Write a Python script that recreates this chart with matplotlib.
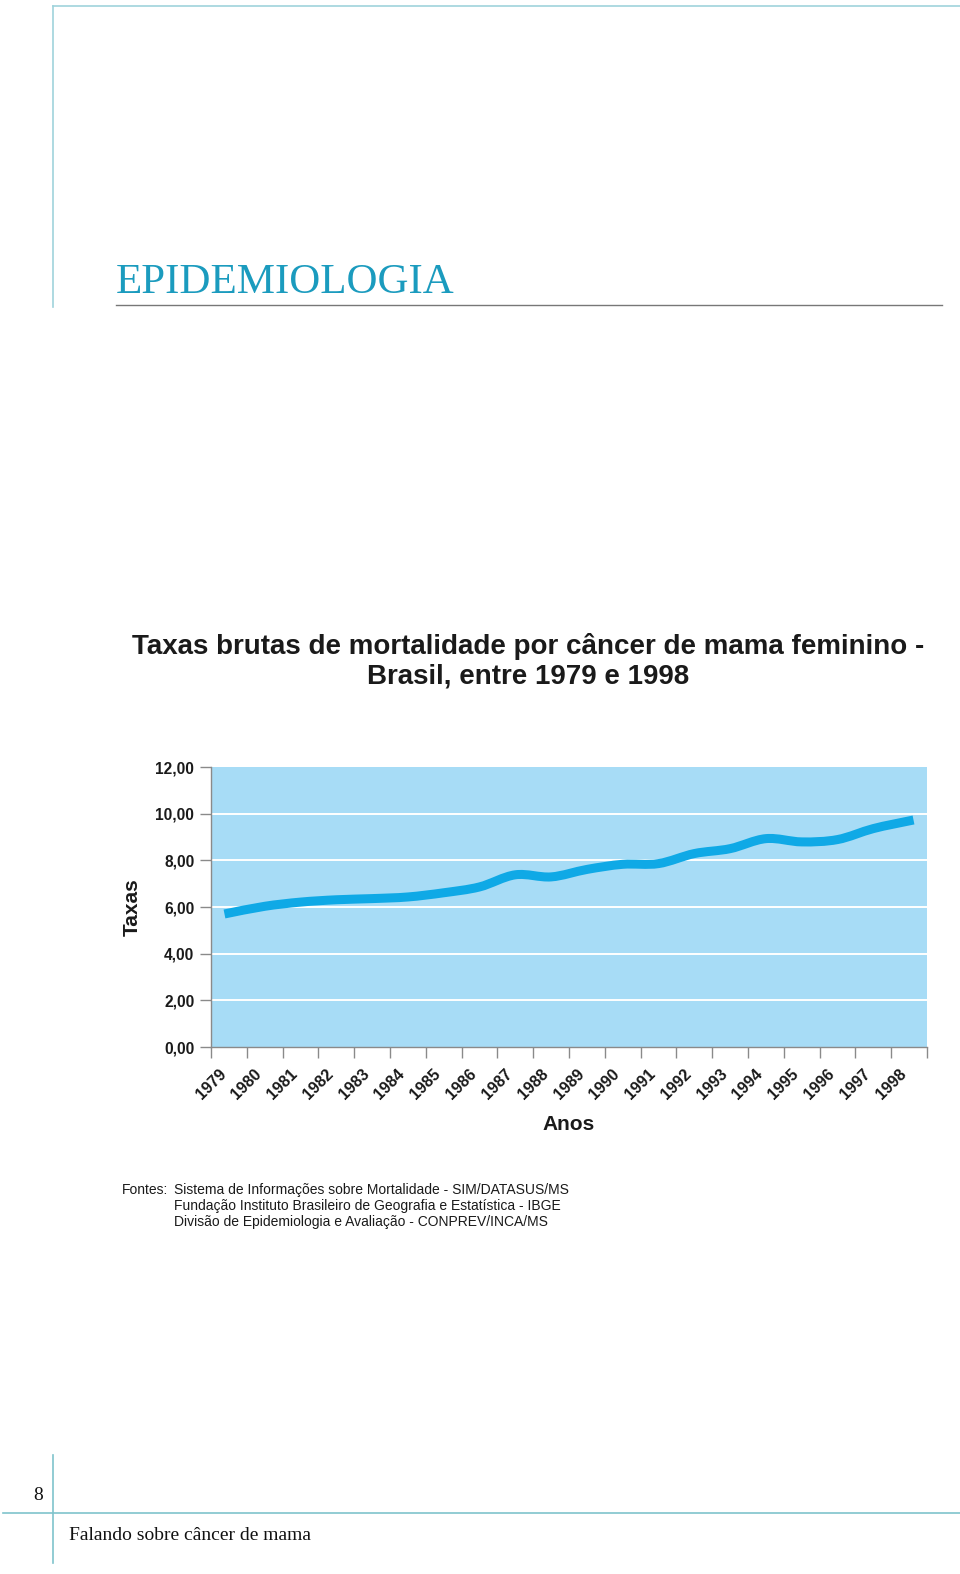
import matplotlib
matplotlib.use("Agg")
import matplotlib.pyplot as plt
from matplotlib.lines import Line2D
from matplotlib.path import Path
from matplotlib.patches import PathPatch

# data
anos = [str(a) for a in range(1979, 1999)]
taxas = [5.74, 6.03, 6.21, 6.31, 6.36, 6.43, 6.61, 6.86, 7.38, 7.29,
         7.61, 7.83, 7.86, 8.29, 8.50, 8.93, 8.79, 8.89, 9.36, 9.69]
y_ticks = [0, 2, 4, 6, 8, 10, 12]
y_tick_labels = ["0,00", "2,00", "4,00", "6,00", "8,00", "10,00", "12,00"]
fontes = ["Sistema de Informações sobre Mortalidade - SIM/DATASUS/MS",
          "Fundação Instituto Brasileiro de Geografia e Estatística - IBGE",
          "Divisão de Epidemiologia e Avaliação - CONPREV/INCA/MS"]

W, H = 960, 1574
fig = plt.figure(figsize=(W / 100, H / 100), dpi=100)
plt.rcParams['font.family'] = ['Liberation Sans', 'DejaVu Sans']


def fx(px):
    return px / W


def fy(py):
    return 1 - py / H


# page decoration
page_blue = "#9fd3dc"
fig.add_artist(Line2D([fx(53), fx(960)], [fy(6), fy(6)], color=page_blue, lw=1.2))
fig.add_artist(Line2D([fx(53), fx(53)], [fy(6), fy(307)], color=page_blue, lw=1.2))
fig.add_artist(Line2D([fx(116), fx(942)], [fy(305), fy(305)], color="#777777", lw=1.0))
fig.text(fx(116), fy(293), "EPIDEMIOLOGIA", family="Liberation Serif",
         fontsize=31, color="#1b9bbe", ha="left", va="baseline")

foot_blue = "#7fc3cc"
fig.add_artist(Line2D([fx(53), fx(53)], [fy(1455), fy(1563)], color=foot_blue, lw=1.2))
fig.add_artist(Line2D([fx(3), fx(960)], [fy(1513), fy(1513)], color=foot_blue, lw=1.2))
fig.text(fx(38), fy(1496), "8", family="Liberation Serif", fontsize=14,
         ha="center", va="center", color="#111111")
fig.text(fx(69), fy(1536), "Falando sobre câncer de mama", family="Liberation Serif",
         fontsize=14, ha="left", va="center", color="#111111")

# title
fig.text(fx(528), fy(661), "Taxas brutas de mortalidade por câncer de mama feminino -\nBrasil, entre 1979 e 1998",
         fontsize=20, fontweight="bold", ha="center", va="center", linespacing=1.2,
         color="#1a1a1a")

# chart
ax = fig.add_axes([fx(211), fy(1047), (927 - 211) / W, (1047 - 767) / H])
ax.set_facecolor("#a7dcf6")
ax.set_xlim(-0.5, len(anos) - 0.5)
ax.set_ylim(0, 12)

for v in y_ticks[1:-1]:
    ax.axhline(v, color="white", lw=1.4, zorder=1)

# smooth curve through the points (Catmull-Rom as cubic Bezier)
pts = list(zip(range(len(taxas)), taxas))
verts = [pts[0]]
codes = [Path.MOVETO]
for i in range(len(pts) - 1):
    p0 = pts[max(i - 1, 0)]
    p1 = pts[i]
    p2 = pts[i + 1]
    p3 = pts[min(i + 2, len(pts) - 1)]
    c1 = (p1[0] + (p2[0] - p0[0]) / 6, p1[1] + (p2[1] - p0[1]) / 6)
    c2 = (p2[0] - (p3[0] - p1[0]) / 6, p2[1] - (p3[1] - p1[1]) / 6)
    verts += [c1, c2, p2]
    codes += [Path.CURVE4] * 3
ax.add_patch(PathPatch(Path(verts, codes), fill=False, edgecolor="#0fa9e6",
                       lw=6.5, capstyle="projecting", joinstyle="round", zorder=3))

for s in ["top", "right"]:
    ax.spines[s].set_visible(False)
for s in ["left", "bottom"]:
    ax.spines[s].set_color("#8a8a8a")
    ax.spines[s].set_linewidth(1.0)

ax.set_yticks(y_ticks)
ax.set_yticklabels(y_tick_labels, fontsize=11.2, fontweight="bold", color="#1a1a1a")
ax.tick_params(axis="y", length=8, width=1, color="#8a8a8a", pad=4)

ax.set_xticks([i - 0.5 for i in range(len(anos) + 1)])
ax.set_xticklabels([])
ax.tick_params(axis="x", which="major", length=8, width=1, color="#8a8a8a")
ax.set_xticks(range(len(anos)), minor=True)
ax.set_xticklabels(anos, minor=True, rotation=45, ha="right", va="top",
                   fontsize=11.5, fontweight="bold", color="#1a1a1a")
ax.tick_params(axis="x", which="minor", length=0, pad=14)

ax.set_ylabel("Taxas", fontsize=15, fontweight="bold", color="#1a1a1a", labelpad=10)
ax.set_xlabel("Anos", fontsize=15, fontweight="bold", color="#1a1a1a", va="center")
ax.xaxis.set_label_coords(0.5, -0.275)

# sources
fig.text(fx(122), fy(1190), "Fontes:", fontsize=10, ha="left", va="center", color="#1a1a1a")
for k, linha in enumerate(fontes):
    fig.text(fx(174), fy(1190 + 16 * k), linha, fontsize=10, ha="left", va="center",
             color="#1a1a1a")

fig.savefig("out.png", dpi=100)
